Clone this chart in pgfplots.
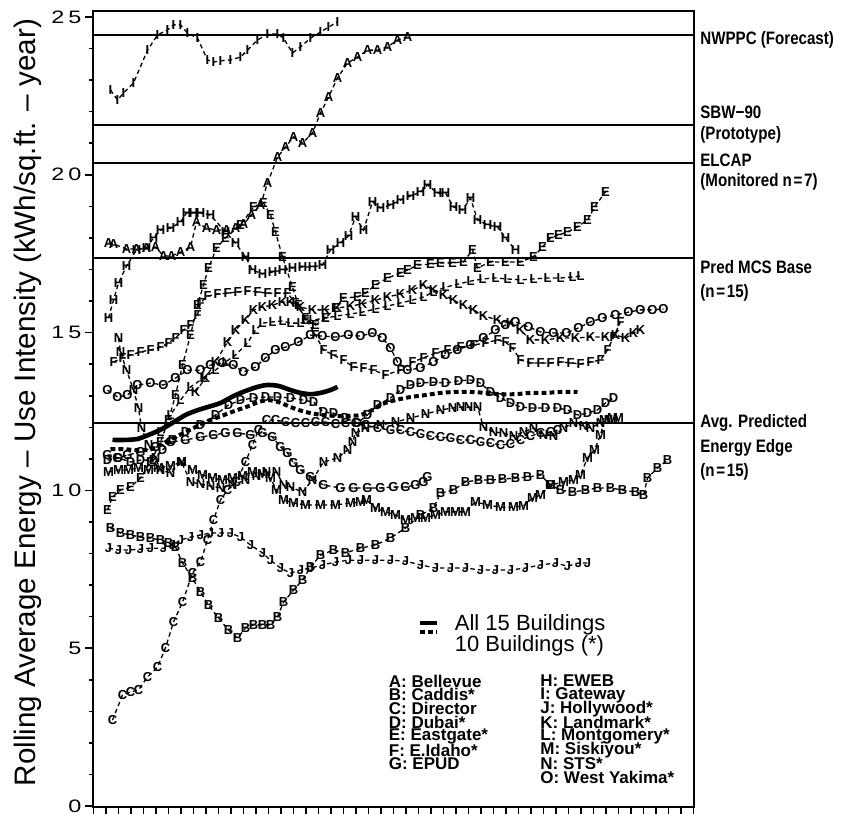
\documentclass[border=0pt]{standalone}
\usepackage{fontspec}
\setmainfont{Liberation Sans}
\usepackage{graphicx}
\usepackage{pgfplots}
\pgfplotsset{compat=1.18}

% wide digits for the y tick labels
\newcommand{\tk}[1]{\scalebox{1.3}[1]{#1}}
% condensed bold for the reference-line captions
\newcommand{\nar}[1]{\scalebox{0.84}[1]{#1}}

\pgfplotsset{
  bldg/.style={black, line width=0.65pt, dash pattern=on 2.2pt off 1.6pt,
    mark=text, text mark={#1}, text mark as node=true,
    text mark style={font=\fontsize{6.5}{7}\selectfont\bfseries, inner sep=0pt},
    mark options={solid}},
  refline/.style={black, line width=1.1pt, forget plot, mark=none},
}

\begin{document}
\begin{tikzpicture}
\path[use as bounding box] (-46.75pt,-3.5pt) rectangle (374.25pt,403.5pt);
\begin{axis}[
  at={(0,0)}, anchor=south west,
  scale only axis, width=300pt, height=398pt,
  xmin=0, xmax=600, ymin=-0.03, ymax=25.19,
  clip=false,
  axis line style={line width=1pt},
  tick align=outside, xtick pos=bottom, ytick pos=left,
  tick style={black, line width=0.8pt},
  major tick length=4pt, minor tick length=2pt,
  xtick={0,12.5,...,600}, xticklabel=\empty,
  ytick={0,5,10,15,20,25}, minor ytick={1,2,3,4,6,7,8,9,11,12,13,14,16,17,18,19,21,22,23,24},
  yticklabels={\tk{0},\tk{5},\tk{1}\kern2pt\tk{0},\tk{1}\kern2pt\tk{5},\tk{2}\kern2pt\tk{0},\tk{2}\kern2pt\tk{5}},
  yticklabel style={font=\fontsize{9}{10}\selectfont, xshift=1.5pt},
  ylabel={Rolling Average Energy – Use Intensity (kWh/sq.ft. – year)},
  ylabel style={font=\fontsize{14.8}{16}\selectfont, at={(axis description cs:-0.11,0.508)}, anchor=center},
]

% reference levels
\addplot[refline] coordinates {(0,24.43) (600,24.43)};
\addplot[refline] coordinates {(0,21.58) (600,21.58)};
\addplot[refline] coordinates {(0,20.37) (600,20.37)};
\addplot[refline] coordinates {(0,17.36) (600,17.36)};
\addplot[refline] coordinates {(0,12.14) (600,12.14)};

% individual buildings
\addplot[bldg=A] coordinates {(15,17.84)(20,17.81)(33,17.65)(43,17.65)(53,17.68)(62,17.71)(70,17.43)(78,17.43)(87,17.55)(97,17.71)(103,18.50)(113,18.31)(123,18.25)(133,18.25)(142,18.31)(150,18.44)(158,18.73)(167,19.04)(174,19.74)(184,20.56)(192,20.88)(200,21.20)(209,21.01)(219,21.32)(227,21.96)(235,22.46)(244,23.07)(254,23.54)(264,23.73)(274,23.95)(284,23.95)(294,24.05)(304,24.27)(314,24.37)};

\addplot[bldg=B] coordinates {(17,8.81)(27,8.65)(37,8.59)(47,8.52)(57,8.49)(67,8.43)(75,8.33)(82,8.21)(89,7.70)(99,7.22)(107,6.78)(115,6.37)(125,5.96)(135,5.58)(144,5.32)(152,5.64)(160,5.74)(169,5.74)(177,5.74)(184,5.99)(190,6.46)(200,6.84)(209,7.16)(217,7.57)(227,7.95)(240,8.11)(252,8.02)(267,8.17)(282,8.27)(297,8.49)(312,8.81)(327,9.22)(340,9.44)(347,9.92)(360,10.01)(372,10.27)(385,10.33)(397,10.33)(409,10.36)(422,10.39)(434,10.42)(447,10.49)(457,10.17)(467,10.01)(479,9.95)(492,10.01)(504,10.08)(517,10.08)(529,10.01)(542,9.95)(550,9.85)(554,10.39)(564,10.71)(574,10.96)};

\addplot[bldg=C] coordinates {(19,2.72)(29,3.52)(37,3.61)(45,3.68)(54,4.09)(64,4.40)(72,5.01)(80,5.83)(89,6.46)(99,7.38)(107,7.73)(114,8.43)(120,9.06)(127,9.70)(134,10.01)(143,10.27)(152,10.90)(159,11.44)(165,11.91)(173,12.23)(182,12.23)(192,12.17)(202,12.14)(212,12.14)(222,12.17)(232,12.17)(242,12.10)(252,12.14)(262,12.14)(272,12.07)(284,11.98)(297,11.91)(307,11.91)(317,11.85)(327,11.79)(337,11.72)(347,11.69)(357,11.66)(367,11.60)(377,11.60)(387,11.53)(397,11.50)(407,11.44)(417,11.47)(427,11.60)(437,11.72)(447,11.82)(457,11.85)(464,11.91)};

\addplot[bldg=D] coordinates {(14,10.96)(25,11.03)(37,10.90)(47,10.96)(60,10.96)(69,11.28)(79,11.60)(92,11.85)(107,12.07)(122,12.39)(135,12.71)(147,12.86)(160,12.93)(172,12.96)(184,12.96)(197,12.93)(210,12.86)(220,12.80)(230,12.48)(240,12.45)(252,12.29)(264,12.14)(274,12.39)(284,12.71)(297,12.93)(307,13.18)(317,13.34)(327,13.40)(340,13.43)(352,13.40)(365,13.47)(377,13.50)(387,13.40)(397,13.12)(407,12.93)(417,12.77)(427,12.64)(439,12.61)(452,12.61)(464,12.61)(474,12.55)(484,12.39)(494,12.45)(504,12.55)(512,12.77)(520,12.93)};

\addplot[bldg=E] coordinates {(14,9.38)(19,9.79)(27,10.01)(37,10.11)(47,10.39)(57,10.90)(67,11.53)(75,12.23)(82,13.02)(89,13.97)(97,14.92)(104,15.87)(110,16.51)(115,17.05)(123,17.68)(132,18.00)(147,18.41)(160,18.98)(170,19.11)(177,18.73)(182,18.19)(189,17.40)(199,16.44)(205,15.87)(212,15.40)(222,15.24)(232,15.46)(242,15.78)(250,16.10)(264,16.13)(272,16.25)(282,16.51)(294,16.73)(307,16.89)(314,16.98)(324,17.14)(337,17.17)(347,17.21)(359,17.21)(370,17.24)(379,17.62)(384,17.05)(397,17.24)(412,17.24)(427,17.24)(440,17.40)(449,17.71)(457,18.00)(465,18.09)(474,18.19)(484,18.35)(494,18.57)(501,18.98)(512,19.46)};

\addplot[bldg=F] coordinates {(20,14.07)(29,14.20)(37,14.29)(47,14.39)(57,14.45)(67,14.54)(75,14.67)(82,14.83)(90,15.08)(97,15.24)(104,15.56)(107,15.94)(114,16.16)(124,16.22)(134,16.25)(144,16.29)(154,16.32)(164,16.29)(174,16.25)(184,16.25)(194,16.25)(202,15.94)(212,15.46)(222,14.92)(230,14.45)(240,14.29)(250,14.13)(260,13.91)(270,13.88)(280,13.81)(292,13.66)(307,13.81)(319,14.07)(330,14.20)(342,14.35)(354,14.45)(367,14.54)(380,14.61)(392,14.67)(404,14.77)(412,14.70)(419,14.51)(427,14.13)(437,14.04)(447,14.04)(457,14.04)(467,14.07)(477,14.04)(487,14.01)(497,14.07)(507,14.13)(514,14.45)(520,14.86)(527,15.34)};

\addplot[bldg=G] coordinates {(14,11.12)(24,11.03)(34,11.12)(47,11.22)(62,11.38)(77,11.53)(92,11.60)(107,11.69)(120,11.76)(132,11.82)(144,11.82)(157,11.76)(169,11.82)(179,11.69)(187,11.38)(194,11.19)(200,10.87)(207,10.65)(217,10.42)(230,10.17)(247,10.08)(260,10.08)(274,10.08)(287,10.08)(300,10.11)(312,10.11)(322,10.17)(330,10.27)(334,10.42)};

\addplot[bldg=H] coordinates {(15,15.46)(20,16.03)(25,16.57)(33,17.11)(43,17.62)(53,17.68)(60,18.00)(67,18.25)(77,18.31)(87,18.50)(93,18.79)(100,18.79)(107,18.79)(117,18.72)(132,18.19)(142,17.84)(152,17.40)(159,16.98)(169,16.86)(179,16.92)(189,16.98)(199,17.05)(209,17.08)(219,17.08)(229,17.14)(237,17.62)(247,17.84)(255,18.06)(262,18.66)(270,18.25)(279,19.14)(287,18.95)(297,19.04)(307,19.20)(317,19.33)(327,19.45)(334,19.68)(344,19.42)(352,19.42)(360,18.98)(369,18.88)(377,19.26)(384,18.57)(394,18.41)(404,18.35)(412,17.99)(422,17.62)};

\addplot[bldg=I] coordinates {(17,22.69)(24,22.37)(30,22.59)(40,22.91)(54,23.95)(64,24.43)(74,24.59)(80,24.75)(87,24.75)(94,24.49)(104,24.33)(114,23.64)(120,23.57)(127,23.61)(137,23.64)(147,23.73)(154,23.95)(164,24.27)(174,24.46)(184,24.46)(190,24.33)(199,23.86)(207,24.05)(217,24.33)(227,24.52)(235,24.68)(244,24.84)};

\addplot[bldg=J] coordinates {(15,8.17)(25,8.11)(35,8.11)(47,8.14)(57,8.17)(70,8.17)(79,8.27)(87,8.43)(97,8.52)(107,8.59)(117,8.65)(127,8.65)(137,8.65)(147,8.52)(157,8.27)(169,8.02)(177,7.79)(187,7.54)(197,7.38)(207,7.48)(217,7.54)(229,7.64)(242,7.73)(255,7.79)(267,7.79)(282,7.79)(297,7.79)(312,7.76)(327,7.64)(342,7.54)(357,7.54)(372,7.54)(387,7.48)(402,7.48)(417,7.48)(432,7.54)(447,7.64)(462,7.70)(474,7.60)(485,7.70)(494,7.70)};

\addplot[bldg=K] coordinates {(102,13.12)(112,13.56)(122,14.07)(134,14.70)(142,15.08)(152,15.40)(160,15.72)(169,15.81)(179,15.87)(189,15.97)(197,15.97)(207,15.81)(219,15.72)(232,15.72)(244,15.78)(257,15.84)(269,15.91)(282,16.03)(294,16.13)(307,16.22)(319,16.35)(330,16.51)(340,16.35)(350,16.19)(360,16.03)(370,15.87)(380,15.72)(390,15.53)(404,15.40)(417,15.30)(427,15.08)(437,14.77)(452,14.77)(467,14.83)(482,14.83)(497,14.86)(512,14.86)(522,14.92)(532,14.83)(540,14.99)(547,15.08)};

\addplot[bldg=L] coordinates {(67,11.85)(77,12.39)(87,12.86)(97,13.28)(110,13.56)(122,13.81)(132,14.07)(142,14.29)(154,14.67)(162,15.08)(169,15.30)(179,15.34)(189,15.37)(197,15.30)(207,15.30)(219,15.40)(232,15.46)(244,15.53)(257,15.59)(269,15.65)(282,15.75)(294,15.84)(307,15.94)(319,16.03)(330,16.13)(340,16.29)(352,16.44)(365,16.54)(377,16.63)(389,16.70)(402,16.73)(414,16.70)(427,16.67)(440,16.70)(454,16.73)(467,16.73)(479,16.76)(487,16.79)};

\addplot[bldg=M] coordinates {(15,10.58)(25,10.65)(35,10.65)(45,10.71)(55,10.65)(65,10.71)(77,10.77)(88,10.90)(99,10.65)(109,10.49)(119,10.39)(129,10.33)(139,10.39)(149,10.46)(159,10.58)(169,10.52)(177,10.39)(183,10.01)(190,9.70)(200,9.60)(212,9.54)(227,9.54)(242,9.54)(257,9.60)(267,9.63)(273,9.70)(282,9.44)(292,9.32)(302,9.22)(312,9.06)(322,9.13)(332,9.13)(342,9.22)(352,9.32)(362,9.32)(372,9.32)(382,9.63)(394,9.54)(407,9.47)(420,9.47)(430,9.51)(439,9.76)(447,9.85)(457,10.17)(470,10.27)(480,10.33)(487,10.49)(494,11.03)(501,11.28)(507,11.76)(511,12.23)(519,12.29)(525,12.29)};

\addplot[bldg=N] coordinates {(25,14.83)(27,14.39)(33,13.81)(40,13.18)(45,12.61)(48,11.98)(55,11.44)(62,11.03)(67,10.65)(77,10.55)(88,10.90)(97,10.27)(107,10.20)(117,10.14)(127,10.08)(139,10.17)(152,10.33)(163,10.46)(173,10.58)(183,10.58)(190,10.17)(197,10.11)(209,9.95)(219,10.33)(230,10.90)(244,11.03)(254,11.28)(259,11.53)(262,11.82)(272,11.98)(287,12.07)(302,12.17)(317,12.29)(332,12.42)(347,12.55)(359,12.61)(367,12.64)(375,12.64)(384,12.64)(390,12.01)(400,11.85)(410,11.82)(420,11.72)(430,11.85)(440,11.98)(450,11.76)(460,11.72)(470,11.98)(480,12.14)(490,12.04)(497,11.98)(507,12.14)(515,12.23)};

\addplot[bldg=O] coordinates {(14,13.18)(24,12.96)(34,13.02)(44,13.34)(57,13.40)(70,13.34)(82,13.56)(94,13.81)(107,13.81)(117,13.97)(129,14.04)(140,13.97)(150,13.75)(162,13.91)(172,14.20)(182,14.45)(192,14.54)(205,14.70)(217,14.92)(229,14.89)(242,14.86)(255,14.92)(267,14.89)(279,14.99)(289,14.83)(297,14.51)(304,14.07)(314,13.81)(327,13.88)(340,14.07)(352,14.29)(364,14.45)(377,14.61)(390,14.83)(402,15.08)(412,15.24)(422,15.34)(435,15.18)(447,15.02)(460,14.99)(473,14.99)(485,15.15)(497,15.34)(509,15.46)(522,15.56)(535,15.65)(547,15.72)(559,15.72)(570,15.75)};

% group averages
\addplot[black, line width=2.3pt, smooth, mark=none] coordinates {(19,11.60)(32,11.60)(44,11.63)(52,11.72)(62,11.85)(72,12.01)(82,12.20)(92,12.39)(102,12.52)(114,12.64)(127,12.77)(140,12.99)(152,13.15)(164,13.28)(174,13.34)(185,13.31)(197,13.18)(207,13.09)(217,13.05)(227,13.09)(237,13.18)(244,13.28)};
\addplot[black, line width=2pt, dash pattern=on 2.4pt off 1.6pt, smooth, mark=none] coordinates {(17,11.31)(29,11.31)(42,11.28)(55,11.28)(63,11.38)(72,11.53)(82,11.69)(92,11.85)(102,12.01)(112,12.17)(122,12.29)(133,12.42)(144,12.55)(155,12.67)(165,12.80)(175,12.86)(185,12.80)(195,12.67)(205,12.55)(217,12.45)(229,12.39)(242,12.36)(255,12.36)(267,12.39)(279,12.55)(289,12.74)(302,12.86)(317,12.96)(332,13.02)(347,13.09)(362,13.12)(377,13.12)(392,13.09)(407,13.05)(422,13.05)(437,13.09)(452,13.09)(467,13.12)(484,13.12)};

% key for the averages
\addplot[black, line width=2pt, mark=none, forget plot] coordinates {(326.5,5.80) (343.5,5.80)};
\addplot[black, line width=2pt, dash pattern=on 2.4pt off 1.6pt, mark=none, forget plot] coordinates {(326.5,5.51) (343.5,5.51)};
\node[anchor=west, inner sep=0pt, font=\fontsize{11}{12}\selectfont] at (axis cs:361,5.74) {All 15 Buildings};
\node[anchor=west, inner sep=0pt, font=\fontsize{11}{12}\selectfont] at (axis cs:361,5.07) {10 Buildings (*)};

% building key
\begin{scope}[every node/.style={anchor=west, inner sep=0pt, font=\fontsize{8.5}{9}\selectfont\bfseries}]
\node at (axis cs:295,3.961) {A: Bellevue};
\node at (axis cs:295,3.523) {B: Caddis*};
\node at (axis cs:295,3.086) {C: Director};
\node at (axis cs:295,2.649) {D: Dubai*};
\node at (axis cs:295,2.212) {E: Eastgate*};
\node at (axis cs:295,1.774) {F: E.Idaho*};
\node at (axis cs:295,1.337) {G: EPUD};
\node at (axis cs:446.5,3.961) {H: EWEB};
\node at (axis cs:446.5,3.523) {I: Gateway};
\node at (axis cs:446.5,3.086) {J: Hollywood*};
\node at (axis cs:446.5,2.649) {K: Landmark*};
\node at (axis cs:446.5,2.212) {L: Montgomery*};
\node at (axis cs:446.5,1.774) {M: Siskiyou*};
\node at (axis cs:446.5,1.337) {N: STS*};
\node at (axis cs:446.5,0.900) {O: West Yakima*};
\end{scope}

% captions of the reference levels
\begin{scope}[every node/.style={anchor=west, inner sep=0pt, font=\fontsize{9}{10}\selectfont\bfseries}]
\node at (axis cs:606.5,24.27) {\nar{NWPPC (Forecast)}};
\node at (axis cs:606.5,21.99) {\nar{SBW−90}};
\node at (axis cs:606.5,21.26) {\nar{(Prototype)}};
\node at (axis cs:606.5,20.47) {\nar{ELCAP}};
\node at (axis cs:606.5,19.77) {\nar{(Monitored n\kern1pt=\kern1pt7)}};
\node at (axis cs:606.5,17.08) {\nar{Pred MCS Base}};
\node at (axis cs:606.5,16.25) {\nar{(n\kern1pt=\kern1pt15)}};
\node at (axis cs:606.5,12.14) {\nar{Avg. Predicted}};
\node at (axis cs:606.5,11.34) {\nar{Energy Edge}};
\node at (axis cs:606.5,10.58) {\nar{(n\kern1pt=\kern1pt15)}};
\end{scope}
\end{axis}
\end{tikzpicture}
\end{document}
